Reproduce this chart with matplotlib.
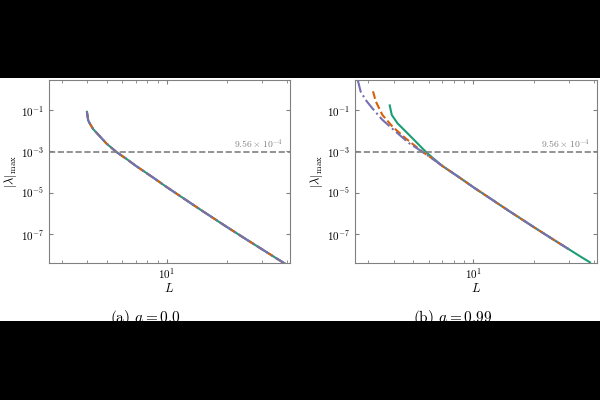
import matplotlib
matplotlib.use("Agg")
import matplotlib.pyplot as plt
from matplotlib.patches import Rectangle
from matplotlib.ticker import LogLocator, NullLocator

plt.rcParams["mathtext.fontset"] = "cm"
plt.rcParams["font.family"] = "serif"
plt.rcParams["font.serif"] = ["cmr10", "DejaVu Serif"]
plt.rcParams["axes.formatter.use_mathtext"] = True

# large-L tail, shared by every curve
L_tail = [7.0, 8.5, 10.0, 12.5, 15.0, 20.0, 25.0, 30.0]
lam_tail = [2.0e-4, 5.6e-5, 1.86e-5, 4.4e-6, 1.35e-6, 2.19e-7, 5.5e-8, 1.82e-8]

# a = 0.0 : all three curves coincide
L_a = [3.98, 4.04, 4.12, 4.28, 4.62, 4.99, 5.6, 6.29] + L_tail + [35.0, 40.0]
lam_a = [8.3e-2, 3.2e-2, 2.2e-2, 1.2e-2, 5.4e-3, 2.4e-3, 9.3e-4, 4.3e-4] + lam_tail + [7.1e-9, 3.2e-9]

# a = 0.99
L_green = [3.83, 3.92, 4.19, 4.79, 5.58, 5.92] + L_tail + [35.0, 38.3]
lam_green = [1.7e-1, 5.9e-2, 2.3e-2, 6.3e-3, 1.4e-3, 7.9e-4] + lam_tail + [7.1e-9, 4.2e-9]

L_orange = [3.16, 3.26, 3.52, 3.95, 4.60, 5.6, 6.29] + L_tail
lam_orange = [8.2e-1, 2.7e-1, 5.9e-2, 1.6e-2, 4.3e-3, 9.3e-4, 4.3e-4] + lam_tail

L_purple = [2.65, 2.74, 2.90, 3.13, 3.52, 4.10, 4.79, 5.6, 6.29] + L_tail
lam_purple = [3.0, 8.1e-1, 3.2e-1, 1.26e-1, 3.4e-2, 9.1e-3, 2.5e-3, 9.3e-4, 4.3e-4] + lam_tail

threshold = 9.56e-4
captions = ["(a) $a = 0.0$", "(b) $a = 0.99$"]

GREEN = "#1b9e77"
ORANGE = "#d95f02"
PURPLE = "#7570b3"
GRAY = "#808080"

fig = plt.figure(figsize=(6, 4), dpi=100)
fig.patch.set_facecolor("white")

ax_a = fig.add_axes([0.0817, 0.3425, 0.4017, 0.4575])
ax_b = fig.add_axes([0.5917, 0.3425, 0.4033, 0.4575])

ax_a.plot(L_a, lam_a, color=GREEN, lw=1.5, ls="-")
ax_a.plot(L_a, lam_a, color=ORANGE, lw=1.5, ls="--")
ax_a.plot(L_a, lam_a, color=PURPLE, lw=1.5, ls="-.")

ax_b.plot(L_green, lam_green, color=GREEN, lw=1.5, ls="-")
ax_b.plot(L_orange, lam_orange, color=ORANGE, lw=1.5, ls="--")
ax_b.plot(L_purple, lam_purple, color=PURPLE, lw=1.5, ls="-.")

for ax in (ax_a, ax_b):
    ax.set_xscale("log")
    ax.set_yscale("log")
    ax.set_xlim(2.57, 41.5)
    ax.set_ylim(3.9e-9, 2.9)
    ax.axhline(threshold, color=GRAY, lw=1.2, ls="--", zorder=5)
    ax.text(0.97, threshold * 1.12, r"$9.56\times10^{-4}$", color=GRAY, fontsize=7,
            ha="right", va="bottom", transform=ax.get_yaxis_transform())
    ax.set_yticks([1e-1, 1e-3, 1e-5, 1e-7])
    ax.yaxis.set_minor_locator(NullLocator())
    ax.xaxis.set_major_locator(LogLocator(base=10))
    ax.xaxis.set_minor_locator(LogLocator(base=10, subs=range(2, 10)))
    ax.tick_params(which="both", direction="in", top=True, right=True,
                   color=GRAY, labelsize=8)
    ax.tick_params(which="major", length=3)
    ax.tick_params(axis="x", which="major", pad=2)
    ax.tick_params(which="minor", length=2, labelbottom=False)
    for sp in ax.spines.values():
        sp.set_color(GRAY)
    ax.set_xlabel("$L$", fontsize=9, labelpad=1)
    ax.set_ylabel(r"$|\lambda|_{\max}$", fontsize=9, labelpad=1)

fig.text(0.243, 0.205, captions[0], fontsize=11, ha="center", va="center")
fig.text(0.755, 0.205, captions[1], fontsize=11, ha="center", va="center")

# black bands above and below
fig.add_artist(Rectangle((0, 0), 1, 0.198, transform=fig.transFigure,
                         facecolor="black", edgecolor="none", zorder=10))
fig.add_artist(Rectangle((0, 0.805), 1, 0.195, transform=fig.transFigure,
                         facecolor="black", edgecolor="none", zorder=10))

fig.savefig("out.png", dpi=100)
